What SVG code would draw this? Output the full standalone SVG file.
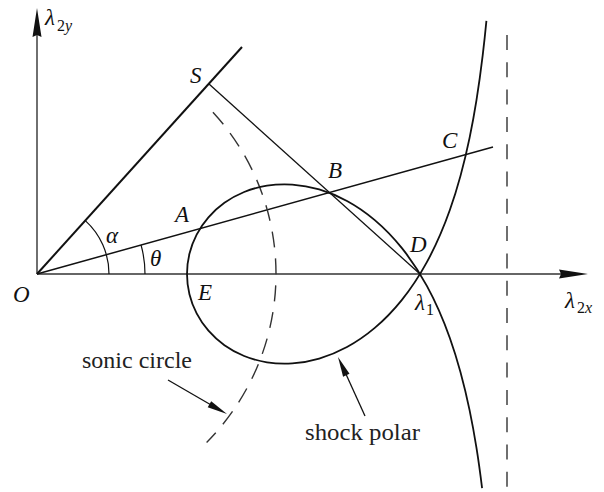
<svg xmlns="http://www.w3.org/2000/svg" width="604" height="492" viewBox="0 0 604 492">
<style>
.ln{fill:none;stroke:#111;stroke-linecap:butt}
.ax{fill:none;stroke:#333;stroke-width:1.4}
.dash{fill:none;stroke:#333;stroke-width:1.4}
.m{font-style:italic;font-size:23px;fill:#111}
.sub{font-size:16px;fill:#111}
.subi{font-style:italic}
.t{font-size:24px;fill:#222}
.ah{fill:#111;stroke:none}
</style>
<rect width="604" height="492" fill="#fff"/>
<g id="axes">
<line class="ax" x1="37" y1="274" x2="37" y2="34"/>
<polygon class="ah" points="37,8 41.5,37 37,35 32.5,37"/>
<line class="ax" x1="37" y1="274" x2="563" y2="274"/>
<polygon class="ah" points="588,274 559,278.5 561,274 559,269.5"/>
</g>
<g id="rays">
<line class="ln" x1="37" y1="274" x2="242" y2="47" stroke-width="2"/>
<line class="ln" x1="37" y1="274" x2="493" y2="147" stroke-width="1.5"/>
<line class="ln" x1="209" y1="84" x2="420" y2="274" stroke-width="1.3"/>
<path class="ln" d="M109,274 A72,72 0 0 0 85.3,220.6" stroke-width="1.2"/>
<path class="ln" d="M145,274 A108,108 0 0 0 141.04,245.02" stroke-width="1.2"/>
</g>
<g id="asymptote">
<line class="dash" x1="507" y1="35" x2="507" y2="490" stroke-dasharray="15 12.3"/>
</g>
<g id="sonic-circle">
<path class="dash" d="M212.93,112.22 A239,239 0 0 1 206.6,442.4" stroke-dasharray="16 11"/>
</g>
<g id="shock-polar">
<path class="ln" stroke-width="1.8" d="M187,274 C187,267.22 187.81,260.45 189.43,253.83 C191.05,247.21 193.47,240.76 196.65,234.62 C199.83,228.48 203.79,222.66 208.44,217.31 C213.09,211.96 218.45,207.09 224.43,202.82 C230.41,198.56 237.02,194.9 244.15,192 C251.28,189.1 258.94,186.95 267,185.67 C275.06,184.39 283.53,183.98 292.28,184.57 C301.03,185.16 310.05,186.73 319.22,189.43 C328.39,192.13 337.69,195.94 347,201 C356.31,206.06 365.61,212.37 374.78,220.11 C383.95,227.85 392.97,237.02 401.72,247.9 C410.47,258.78 418.94,271.34 427,286.12 C435.06,300.9 442.71,317.85 449.84,338 C456.97,358.15 463.59,381.42 469.57,410.19 C471.96,421.7 474.25,434.1 476.44,447.71 C478.41,459.96 480.29,473.65 482.09,488.18"/>
<path class="ln" stroke-width="1.8" d="M187,274 C187,280.78 187.81,287.55 189.43,294.17 C191.05,300.79 193.47,307.24 196.65,313.38 C199.83,319.52 203.79,325.34 208.44,330.69 C213.09,336.04 218.45,340.91 224.43,345.18 C230.41,349.44 237.02,353.1 244.15,356 C251.28,358.9 258.94,361.05 267,362.33 C275.06,363.61 283.53,364.02 292.28,363.43 C301.03,362.84 310.05,361.27 319.22,358.57 C328.39,355.87 337.69,352.06 347,347 C356.31,341.94 365.61,335.63 374.78,327.89 C383.95,320.15 392.97,310.98 401.72,300.1 C410.47,289.22 418.94,276.66 427,261.88 C435.06,247.1 442.71,230.15 449.84,210 C456.97,189.85 463.59,166.58 469.57,137.81 C471.96,126.3 474.25,113.9 476.44,100.29 C478.63,86.68 480.72,71.86 482.69,55.38 C483.97,44.67 485.22,33.13 486.41,20.8"/>
</g>
<g id="connectors">
<line class="ln" x1="168" y1="380" x2="212" y2="405.5" stroke-width="1.3"/>
<polygon class="ah" points="227,414 207.7,407.3 211.2,401.3"/>
<line class="ln" x1="365" y1="416" x2="345" y2="372" stroke-width="1.3"/>
<polygon class="ah" points="338,357 349.5,373.7 343.1,376.7"/>
</g>
<g id="labels" font-family="Liberation Serif, serif">
<text class="m" x="190" y="83">S</text>
<text class="m" x="175" y="222">A</text>
<text class="m" x="328" y="178">B</text>
<text class="m" x="442" y="148">C</text>
<text class="m" x="410" y="252">D</text>
<text class="m" x="198" y="300">E</text>
<text class="m" x="13" y="302">O</text>
<text class="m" x="106" y="243">α</text>
<text class="m" x="150" y="266">θ</text>
<text class="m" x="45" y="25">λ</text><text class="sub" x="57" y="31">2<tspan class="subi">y</tspan></text>
<text class="m" x="415" y="310">λ</text><text class="sub" x="426" y="315">1</text>
<text class="m" x="565" y="308">λ</text><text class="sub" x="577" y="313">2<tspan class="subi">x</tspan></text>
<text class="t" x="82" y="368" textLength="110" lengthAdjust="spacingAndGlyphs">sonic circle</text>
<text class="t" x="305" y="440" textLength="115" lengthAdjust="spacingAndGlyphs">shock polar</text>
</g>
</svg>
